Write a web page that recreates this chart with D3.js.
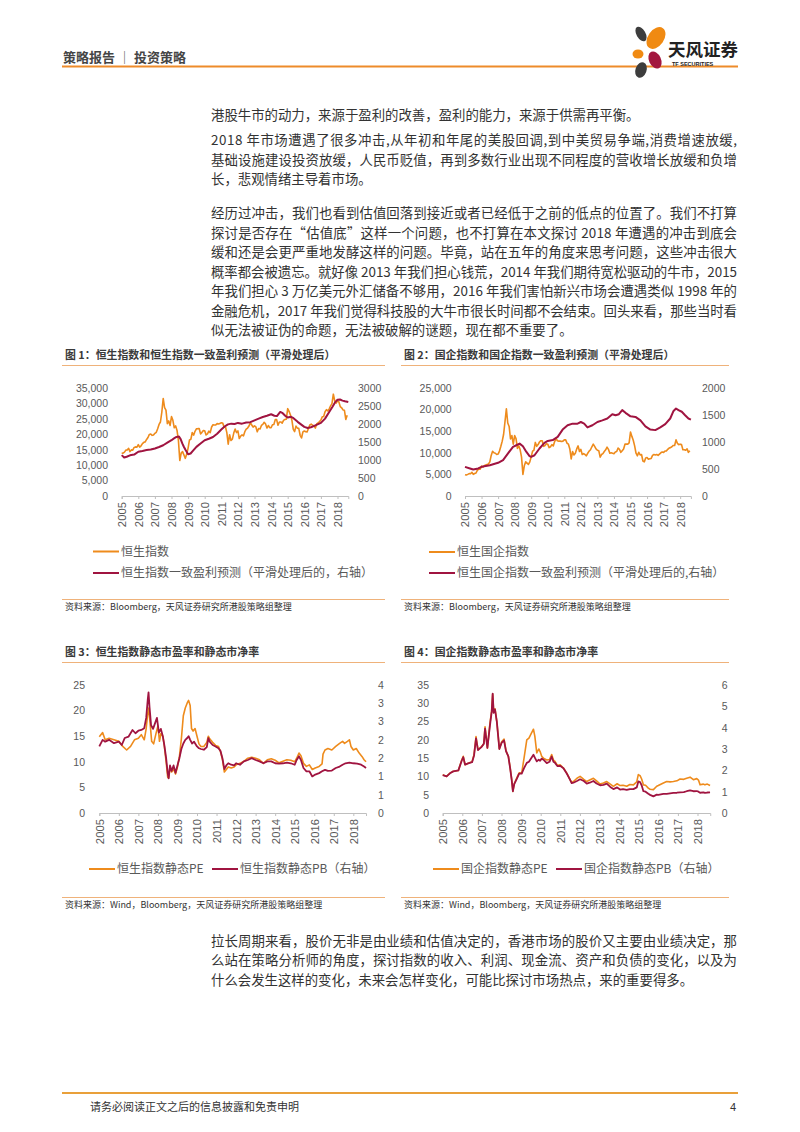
<!DOCTYPE html>
<html><head><meta charset="utf-8">
<script src="https://cdn.jsdelivr.net/npm/d3@7"></script>
<style>
body{margin:0;background:#fff;}
svg{display:block;}
</style></head><body>
<svg id="page" width="800" height="1132"></svg>
<script>
// ---------------- DATA ----------------
const years = d3.range(2005, 2019);           // x tick labels 2005..2018
const monthStart = 2005;                      // monthly series start (picture position)

// Chart 1: Hang Seng Index (monthly)
const hsi = [13900,13870,14200,14880,14900,15430,14390,14940,14880,
15750,15920,15800,16660,15860,16270,16970,17390,17540,18320,18960,19960,
20100,19650,19800,20320,20640,21770,23180,23980,27140,31600,28640,27810,
23460,24330,22850,25750,24530,22100,22730,21260,18020,11500,13890,14390,
13280,12200,13580,15520,18170,18380,20570,19720,20960,21750,21820,21870,
20120,20610,21240,21110,19770,20130,21030,20540,22360,23100,23010,23040,
23450,23340,23530,23720,23680,22400,22440,20530,16800,19860,17990,18430,
20390,21680,20560,21090,18630,19440,19800,19480,20840,21640,22030,22660,
23730,23020,22300,22740,22390,20800,21880,21730,22860,23210,23880,23310,
22040,22840,22150,22130,23080,23190,24760,24740,22930,24000,23990,23610,
24510,24820,24900,28300,27420,26250,24640,21670,20850,22640,22000,21910,
19680,18800,20780,21070,20820,20790,21890,23020,23300,22930,22790,22000,
23360,23740,24110,24620,25660,25770,27320,27970,27550,28250,29180,29920,
33000,30840,30090,30810,30470,28960,28580,27890,27790,24800,26200];
// HSI consensus earnings forecast (smoothed, right axis)
const hsiEpsDates = [2005.0,2005.15,2005.3,2005.5,2005.75,2006.0,2006.25,2006.5,2006.75,2007.0,2007.25,2007.5,2007.75,2008.0,2008.15,2008.3,2008.45,2008.55,2008.65,2008.75,2008.85,2009.0,2009.15,2009.3,2009.5,2009.75,2010.0,2010.25,2010.5,2010.75,2011.0,2011.2,2011.4,2011.6,2011.8,2012.0,2012.25,2012.5,2012.75,2013.0,2013.25,2013.5,2013.75,2014.0,2014.2,2014.35,2014.55,2014.7,2014.85,2015.0,2015.2,2015.35,2015.6,2015.8,2016.0,2016.2,2016.4,2016.6,2016.8,2017.0,2017.25,2017.5,2017.7,2017.85,2018.0,2018.15,2018.3,2018.45,2018.65];
const hsiEps = [1135,1070,1090,1130,1150,1230,1250,1275,1290,1320,1360,1410,1480,1550,1600,1640,1650,1580,1460,1360,1275,1160,1180,1260,1365,1460,1550,1590,1640,1730,1845,1930,1990,2010,2000,2030,2010,2040,2050,2100,2150,2195,2230,2270,2230,2220,2335,2300,2230,2180,2200,2160,2060,1990,1920,1890,1910,1950,1990,2030,2150,2335,2480,2600,2675,2680,2650,2630,2610];

// Chart 2: HSCEI (monthly)
const hscei = [4940,4850,5000,5190,5150,5500,5000,5200,5330,
6000,6200,6200,6900,6700,7000,7200,7300,7400,7900,9400,10340,
10000,9900,9600,9700,10400,11500,12700,14300,17200,20200,16900,16100,
13200,14000,12000,14000,13300,11000,11600,10700,9000,5000,7000,7900,
7600,7300,7900,9100,10400,10600,12400,11500,11900,12500,12800,12800,
11500,11700,12100,12000,11200,11400,11900,11600,12600,13300,12800,12700,
12700,12600,12700,13000,13000,12200,12000,10900,8600,10300,9500,9900,
10900,11600,10300,10800,9600,9800,9600,9300,9900,10400,10700,11400,
12000,11500,10900,10600,10500,9000,9600,9800,10300,10700,11300,10800,
9900,10000,9900,9800,10200,10300,11100,10800,10100,10500,10900,12000,
12000,12000,12300,14800,13800,12900,11600,9900,9300,10100,9500,9600,
8100,7900,8800,8900,8500,8600,8700,9400,9600,9500,9600,9400,
9700,10000,10200,10100,10400,10400,10800,11100,11200,11400,11700,11700,
13000,12200,11900,12000,11900,10700,10700,10600,10900,10100,10500];
const hsceiEpsDates = [2005.0,2005.3,2005.5,2005.8,2006.0,2006.5,2007.0,2007.3,2007.6,2007.9,2008.1,2008.3,2008.5,2008.7,2008.9,2009.0,2009.2,2009.5,2009.8,2010.0,2010.3,2010.6,2010.9,2011.2,2011.5,2011.8,2012.0,2012.2,2012.4,2012.7,2013.0,2013.3,2013.6,2013.9,2014.1,2014.3,2014.5,2014.7,2015.0,2015.3,2015.6,2015.9,2016.2,2016.5,2016.8,2017.1,2017.4,2017.6,2017.75,2017.9,2018.1,2018.3,2018.5,2018.65];
const hsceiEps = [540,510,490,510,540,570,615,665,790,910,940,970,920,820,740,725,755,880,985,1020,1035,1095,1230,1310,1340,1340,1370,1340,1270,1310,1370,1400,1435,1515,1495,1515,1590,1540,1475,1465,1400,1290,1230,1220,1270,1330,1435,1575,1620,1590,1560,1495,1435,1415];

// Chart 3: HSI trailing PE / PB
const hsiPeDates = [2005.0,2005.08,2005.17,2005.3,2005.5,2005.75,2006.0,2006.2,2006.4,2006.6,2006.8,2007.0,2007.15,2007.3,2007.4,2007.48,2007.53,2007.6,2007.68,2007.78,2007.9,2008.0,2008.08,2008.15,2008.25,2008.33,2008.42,2008.5,2008.55,2008.62,2008.7,2008.8,2008.9,2009.0,2009.1,2009.2,2009.3,2009.4,2009.5,2009.57,2009.65,2009.72,2009.8,2009.9,2010.0,2010.1,2010.2,2010.35,2010.5,2010.58,2010.65,2010.8,2010.95,2011.1,2011.2,2011.3,2011.4,2011.5,2011.6,2011.75,2011.9,2012.0,2012.2,2012.4,2012.6,2012.8,2013.0,2013.2,2013.4,2013.6,2013.8,2014.0,2014.2,2014.4,2014.6,2014.8,2015.0,2015.1,2015.22,2015.32,2015.45,2015.6,2015.75,2015.9,2016.05,2016.25,2016.4,2016.45,2016.55,2016.7,2016.9,2017.1,2017.3,2017.45,2017.55,2017.7,2017.8,2017.88,2018.0,2018.15,2018.3,2018.45,2018.55,2018.65];
const hsiPe = [14.9,15.3,15.7,14.3,14.6,14.3,14.0,13.0,12.3,13.0,14.3,14.6,15.3,14.3,16.5,19.5,20.5,17.5,14.0,13.5,15.5,17.0,14.0,15.5,15.0,13.0,10.0,7.0,6.8,9.0,8.0,8.6,7.6,9.0,11.0,14.5,19.0,20.5,21.5,22.0,21.0,16.5,16.0,16.5,15.0,13.5,13.0,13.0,13.8,15.0,14.5,13.8,13.2,13.0,12.0,10.5,8.0,8.5,9.0,8.8,9.0,9.4,9.7,10.1,10.7,10.9,10.7,10.4,9.7,10.4,10.6,10.3,9.8,10.1,10.4,10.3,10.0,10.7,11.7,11.2,9.7,9.1,9.4,8.5,8.8,9.1,9.6,11.5,12.3,12.6,12.3,13.0,13.6,14.0,13.6,14.0,14.3,13.0,12.3,12.6,11.7,11.0,10.4,10.0];
const hsiPbDates = [2005.0,2005.17,2005.3,2005.5,2005.75,2006.0,2006.15,2006.3,2006.5,2006.7,2006.85,2007.0,2007.15,2007.3,2007.4,2007.48,2007.52,2007.57,2007.65,2007.75,2007.85,2007.95,2008.05,2008.15,2008.25,2008.33,2008.42,2008.5,2008.55,2008.62,2008.7,2008.8,2008.9,2009.0,2009.1,2009.2,2009.3,2009.4,2009.5,2009.57,2009.65,2009.75,2009.85,2010.0,2010.1,2010.2,2010.35,2010.5,2010.58,2010.65,2010.8,2010.95,2011.1,2011.2,2011.3,2011.4,2011.5,2011.6,2011.75,2011.9,2012.0,2012.2,2012.4,2012.6,2012.8,2013.0,2013.2,2013.4,2013.6,2013.8,2014.0,2014.2,2014.4,2014.6,2014.8,2015.0,2015.1,2015.22,2015.32,2015.45,2015.6,2015.75,2015.9,2016.05,2016.25,2016.4,2016.55,2016.7,2016.9,2017.1,2017.3,2017.45,2017.6,2017.8,2018.0,2018.2,2018.4,2018.55,2018.65];
const hsiPb = [1.82,2.0,1.95,2.0,1.91,1.95,1.86,2.05,2.09,2.27,2.18,2.25,2.27,2.32,2.6,3.1,3.3,2.9,2.4,2.3,2.45,2.6,2.2,2.3,2.1,1.85,1.5,1.1,0.95,1.3,1.15,1.3,1.1,1.3,1.5,1.75,1.9,2.0,2.05,2.1,2.0,1.9,1.95,1.82,1.77,1.75,1.73,1.8,2.05,1.95,1.86,1.82,1.77,1.7,1.5,1.2,1.3,1.36,1.32,1.3,1.36,1.32,1.41,1.45,1.5,1.45,1.41,1.36,1.41,1.41,1.36,1.35,1.36,1.38,1.36,1.32,1.45,1.55,1.45,1.23,1.14,1.14,1.0,1.05,1.09,1.14,1.18,1.15,1.16,1.23,1.27,1.32,1.36,1.38,1.36,1.35,1.32,1.27,1.23];

// Chart 4: HSCEI trailing PE / PB (same dates)
const hscPeDates = [2005.0,2005.2,2005.37,2005.54,2005.8,2005.97,2006.05,2006.14,2006.3,2006.5,2006.6,2006.7,2006.8,2006.99,2007.1,2007.16,2007.28,2007.41,2007.5,2007.55,2007.6,2007.67,2007.76,2007.85,2007.89,2008.01,2008.13,2008.23,2008.35,2008.44,2008.52,2008.58,2008.65,2008.78,2008.9,2009.03,2009.15,2009.29,2009.4,2009.54,2009.63,2009.7,2009.8,2009.9,2009.97,2010.05,2010.14,2010.31,2010.45,2010.56,2010.65,2010.73,2010.85,2010.99,2011.16,2011.33,2011.5,2011.58,2011.67,2011.85,2012.01,2012.2,2012.35,2012.5,2012.69,2012.85,2013.03,2013.2,2013.37,2013.55,2013.71,2013.9,2014.05,2014.2,2014.39,2014.55,2014.73,2014.9,2014.98,2015.07,2015.15,2015.24,2015.35,2015.49,2015.58,2015.75,2015.92,2016.0,2016.26,2016.43,2016.6,2016.77,2016.95,2017.11,2017.3,2017.45,2017.62,2017.79,2017.96,2018.05,2018.13,2018.3,2018.38,2018.5,2018.64];
const hscPe = [10.5,10.0,10.9,11.4,11.6,14.5,15.5,13.2,13.6,14.0,16.0,20.9,17.3,18.2,19.0,23.6,17.7,24.5,28.0,32.5,27.5,28.5,25.0,20.0,17.5,19.5,20.2,17.0,15.5,12.5,9.1,5.9,8.0,9.6,11.0,10.9,15.0,20.0,20.5,22.0,22.9,21.0,16.4,17.5,16.8,15.5,15.0,14.5,14.6,16.0,14.5,14.1,13.0,13.2,12.3,10.9,9.1,8.3,8.6,9.5,10.0,9.2,8.6,9.0,9.5,8.8,7.9,8.2,8.6,7.9,7.3,8.0,7.5,7.6,7.3,7.8,7.7,8.5,10.5,10.2,9.3,7.7,7.6,6.8,6.5,6.4,7.3,7.5,8.2,8.6,8.5,8.6,8.8,9.3,9.2,9.5,9.8,9.1,9.4,9.0,7.7,7.9,7.7,7.9,7.5];
const hscPb = [1.78,1.72,1.86,1.95,2.0,2.45,2.62,2.27,2.33,2.38,2.7,3.5,2.95,3.1,3.25,3.95,3.05,4.1,4.75,5.6,4.7,4.85,4.3,3.4,3.0,3.3,3.4,2.9,2.65,2.1,1.55,1.02,1.35,1.6,1.85,1.85,2.1,2.35,2.4,2.6,2.73,2.6,2.42,2.5,2.45,2.55,2.5,2.34,2.4,2.65,2.4,2.35,2.2,2.21,2.1,1.85,1.55,1.4,1.42,1.5,1.58,1.5,1.38,1.42,1.5,1.38,1.3,1.32,1.38,1.22,1.12,1.2,1.1,1.12,1.08,1.12,1.12,1.2,1.48,1.45,1.3,1.02,1.0,0.9,0.85,0.78,0.86,0.85,0.9,0.9,0.92,0.94,0.95,0.97,0.98,1.02,1.06,1.02,1.03,1.0,0.95,0.97,0.94,0.96,0.97];

// ---------------- STYLE ----------------
const ORANGE = "#EE8B1C", MAROON = "#A01440";
const CJK = "'Noto Sans CJK SC','Noto Sans',sans-serif";
const NUM = "'Liberation Sans',Arial,sans-serif";
const svg = d3.select("#page");

// ---------------- HEADER ----------------
svg.append("text").attr("x",63).attr("y",62).attr("font-family",CJK).attr("font-size",13)
  .attr("font-weight",700).attr("fill","#454545").text("策略报告 │ 投资策略");
svg.append("rect").attr("x",62).attr("y",65.5).attr("width",676).attr("height",2).attr("fill","#EE8B2A");
// logo
const logo = svg.append("g");
logo.append("ellipse").attr("cx",641).attr("cy",34).attr("rx",4.5).attr("ry",8).attr("fill","#3d3d3d").attr("transform","rotate(-30,641,34)");
logo.append("ellipse").attr("cx",656).attr("cy",38).attr("rx",8).attr("ry",12).attr("fill","#F08A12").attr("transform","rotate(35,656,38)");
logo.append("ellipse").attr("cx",638).attr("cy",54).attr("rx",5.5).attr("ry",4.5).attr("fill","#F08A12");
logo.append("ellipse").attr("cx",655).attr("cy",60).attr("rx",6).attr("ry",9).attr("fill","#A3173F").attr("transform","rotate(-25,655,60)");
logo.append("ellipse").attr("cx",641).attr("cy",70).attr("rx",5.5).attr("ry",8).attr("fill","#3d3d3d").attr("transform","rotate(20,641,70)");
svg.append("text").attr("x",668).attr("y",56).attr("font-family",CJK).attr("font-size",17.5).attr("font-weight",700).attr("fill","#222").text("天风证券");
svg.append("text").attr("x",672).attr("y",66).attr("font-family",NUM).attr("font-size",5.5).attr("font-weight",700).attr("fill","#222").text("TF SECURITIES");

// ---------------- BODY TEXT ----------------
const bodyLines = [
 ["港股牛市的动力，来源于盈利的改善，盈利的能力，来源于供需再平衡。",120,false],
 ["2018 年市场遭遇了很多冲击,从年初和年尾的美股回调,到中美贸易争端,消费增速放缓,",145,true],
 ["基础设施建设投资放缓，人民币贬值，再到多数行业出现不同程度的营收增长放缓和负增",164.5,true],
 ["长，悲观情绪主导着市场。",184,false],
 ["经历过冲击，我们也看到估值回落到接近或者已经低于之前的低点的位置了。我们不打算",218,true],
 ["探讨是否存在“估值底”这样一个问题，也不打算在本文探讨 2018 年遭遇的冲击到底会",237.5,true],
 ["缓和还是会更严重地发酵这样的问题。毕竟，站在五年的角度来思考问题，这些冲击很大",257,true],
 ["概率都会被遗忘。就好像 2013 年我们担心钱荒，2014 年我们期待宽松驱动的牛市，2015",276.5,true],
 ["年我们担心 3 万亿美元外汇储备不够用，2016 年我们害怕新兴市场会遭遇类似 1998 年的",296,true],
 ["金融危机，2017 年我们觉得科技股的大牛市很长时间都不会结束。回头来看，那些当时看",315.5,true],
 ["似无法被证伪的命题，无法被破解的谜题，现在都不重要了。",335,false],
 ["拉长周期来看，股价无非是由业绩和估值决定的，香港市场的股价又主要由业绩决定，那",945.5,true],
 ["么站在策略分析师的角度，探讨指数的收入、利润、现金流、资产和负债的变化，以及为",965,true],
 ["什么会发生这样的变化，未来会怎样变化，可能比探讨市场热点，来的重要得多。",984.5,false]
];
bodyLines.forEach(([t,y,j])=>{
  const el = svg.append("text").attr("x",211).attr("y",y).attr("font-family",CJK)
    .attr("font-size",13.4).attr("fill","#333").text(t);
  if(j) el.attr("textLength",526).attr("lengthAdjust","spacing");
});

// ---------------- CHART HELPER ----------------
function chart(c){
  const g = svg.append("g");
  // title + rule
  g.append("text").attr("x",c.panelX+3).attr("y",c.titleY).attr("font-family",CJK).attr("font-size",10.9)
    .attr("font-weight",700).attr("fill","#3a3a3a").text(c.title);
  g.append("rect").attr("x",c.panelX).attr("y",c.titleY+6).attr("width",c.panelW).attr("height",1).attr("fill","#EFB27A");
  const x = d3.scaleLinear().domain([2005, 2018.65]).range([c.x0, c.x0 + 13.65*c.ppy]);
  const yl = d3.scaleLinear().domain([0,c.lMax]).range([c.yB,c.yT]);
  const yr = d3.scaleLinear().domain([0,c.rMax]).range([c.yB,c.yT]);
  // left axis labels
  const la = g.append("g").attr("transform",`translate(${c.lLabX+3},0)`)
    .call(d3.axisLeft(yl).tickValues(d3.range(0,c.lMax+1e-9,c.lStep)).tickSize(0).tickPadding(3).tickFormat(c.lFmt));
  const ra = g.append("g").attr("transform",`translate(${c.rLabX-3},0)`)
    .call(d3.axisRight(yr).tickValues(d3.range(0,c.rMax+1e-9,c.rStep)).tickSize(0).tickPadding(3).tickFormat(c.rFmt));
  [la,ra].forEach(a=>{a.select(".domain").remove();
    a.selectAll("text").attr("font-family",NUM).attr("font-size",c.fs).attr("fill","#595959");});
  // x axis
  const xa = g.append("g").attr("transform",`translate(0,${c.yB})`)
    .call(d3.axisBottom(x).tickValues(years).tickSize(3).tickFormat(d3.format("d")));
  xa.select(".domain").attr("stroke","#BFBFBF");
  xa.selectAll(".tick line").attr("stroke","#BFBFBF");
  xa.selectAll("text").attr("font-family",NUM).attr("font-size",c.xfs).attr("fill","#595959")
    .attr("transform","rotate(-90)").attr("x",-6).attr("y",0).attr("dy","0.35em").style("text-anchor","end");
  // series
  c.series.forEach(s=>{
    const ys = s.axis==="r" ? yr : yl;
    const pts = s.dates.map((d,i)=>[d, s.values[i]]);
    g.append("path").datum(pts).attr("fill","none").attr("stroke",s.color).attr("stroke-width",s.w||1.6)
      .attr("stroke-linejoin","round")
      .attr("d", d3.line().x(p=>x(p[0])).y(p=>ys(p[1])));
  });
  // legend
  c.legend.forEach(l=>{
    g.append("line").attr("x1",l.x).attr("x2",l.x+26).attr("y1",l.y).attr("y2",l.y).attr("stroke",l.color).attr("stroke-width",2);
    g.append("text").attr("x",l.x+28).attr("y",l.y+4.2).attr("font-family",CJK).attr("font-size",12).attr("fill","#595959").text(l.text);
  });
  // source
  g.append("rect").attr("x",c.panelX).attr("y",c.srcY-11).attr("width",c.panelW).attr("height",1).attr("fill","#EFB27A");
  g.append("text").attr("x",c.panelX+3).attr("y",c.srcY).attr("font-family",CJK).attr("font-size",9).attr("fill","#333").text(c.source);
}

const monthDates = arr => arr.map((v,i)=> monthStart + i/12);
const fmtComma = d3.format(",");
const fmtInt = d3.format("d");
const fmtRound = d => String(Math.round(d));

chart({panelX:62,panelW:323,titleY:359,title:"图 1：恒生指数和恒生指数一致盈利预测（平滑处理后）",
  x0:121.7,ppy:16.6,yT:388,yB:496,lMax:35000,lStep:5000,rMax:3000,rStep:500,lFmt:fmtComma,rFmt:fmtInt,
  lLabX:108,rLabX:358,fs:10.5,xfs:11.3,
  series:[{dates:monthDates(hsi),values:hsi,axis:"l",color:ORANGE},{dates:hsiEpsDates,values:hsiEps,axis:"r",color:MAROON,w:2}],
  legend:[{x:93,y:551.5,color:ORANGE,text:"恒生指数"},{x:93,y:573,color:MAROON,text:"恒生指数一致盈利预测（平滑处理后的，右轴）"}],
  srcY:610,source:"资料来源：Bloomberg，天风证券研究所港股策略组整理"});

chart({panelX:401,panelW:328,titleY:359,title:"图 2：国企指数和国企指数一致盈利预测（平滑处理后）",
  x0:465,ppy:16.55,yT:388,yB:496,lMax:25000,lStep:5000,rMax:2000,rStep:500,lFmt:fmtComma,rFmt:fmtInt,
  lLabX:451.7,rLabX:702,fs:10.5,xfs:11.3,
  series:[{dates:monthDates(hscei),values:hscei,axis:"l",color:ORANGE},{dates:hsceiEpsDates,values:hsceiEps,axis:"r",color:MAROON,w:2}],
  legend:[{x:429,y:552,color:ORANGE,text:"恒生国企指数"},{x:429,y:573,color:MAROON,text:"恒生国企指数一致盈利预测（平滑处理后的,右轴）"}],
  srcY:610,source:"资料来源：Bloomberg，天风证券研究所港股策略组整理"});

chart({panelX:62,panelW:323,titleY:656,title:"图 3：恒生指数静态市盈率和静态市净率",
  x0:99.3,ppy:19.54,yT:685,yB:813,lMax:25,lStep:5,rMax:3.5,rStep:0.5,lFmt:fmtInt,rFmt:fmtRound,
  lLabX:85,rLabX:378,fs:10.5,xfs:11.3,
  series:[{dates:hsiPeDates,values:hsiPe,axis:"l",color:ORANGE},{dates:hsiPbDates,values:hsiPb,axis:"r",color:MAROON,w:1.8}],
  legend:[{x:89,y:869,color:ORANGE,text:"恒生指数静态PE"},{x:212,y:869,color:MAROON,text:"恒生指数静态PB（右轴）"}],
  srcY:908,source:"资料来源：Wind，Bloomberg，天风证券研究所港股策略组整理"});

chart({panelX:401,panelW:328,titleY:656,title:"图 4：国企指数静态市盈率和静态市净率",
  x0:442.7,ppy:19.6,yT:685,yB:813,lMax:35,lStep:5,rMax:6,rStep:1,lFmt:fmtInt,rFmt:fmtInt,
  lLabX:429,rLabX:721.7,fs:10.5,xfs:11.3,
  series:[{dates:hscPeDates,values:hscPe,axis:"l",color:ORANGE},{dates:hscPeDates,values:hscPb,axis:"r",color:MAROON,w:1.8}],
  legend:[{x:433,y:869,color:ORANGE,text:"国企指数静态PE"},{x:556,y:869,color:MAROON,text:"国企指数静态PB（右轴）"}],
  srcY:908,source:"资料来源：Wind，Bloomberg，天风证券研究所港股策略组整理"});

// ---------------- FOOTER ----------------
svg.append("rect").attr("x",62).attr("y",1092).attr("width",676).attr("height",2).attr("fill","#E9A03A");
svg.append("text").attr("x",90).attr("y",1111).attr("font-family",CJK).attr("font-size",11).attr("fill","#333").text("请务必阅读正文之后的信息披露和免责申明");
svg.append("text").attr("x",736).attr("y",1111).attr("text-anchor","end").attr("font-family",NUM).attr("font-size",11).attr("fill","#333").text("4");
</script></body></html>
